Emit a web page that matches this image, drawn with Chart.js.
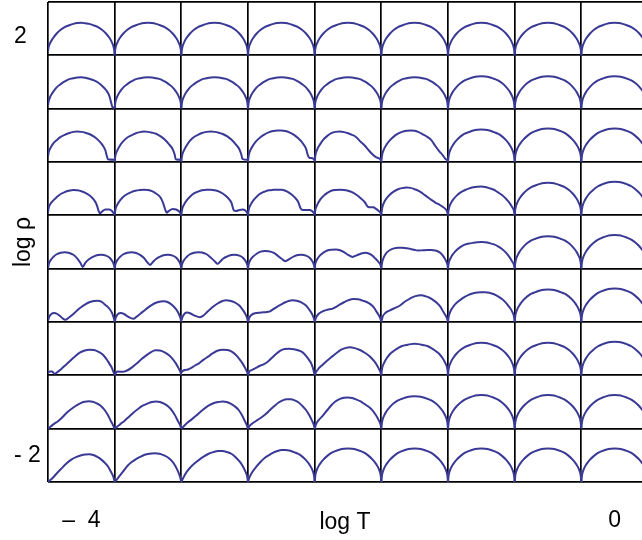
<!DOCTYPE html>
<html><head><meta charset="utf-8">
<script src="https://cdn.jsdelivr.net/npm/chart.js@4.4.1/dist/chart.umd.min.js"></script>
<style>html,body{margin:0;padding:0;background:#fff;}canvas{display:block;}</style>
</head><body>
<canvas id="c" width="642" height="540"></canvas>
<script>
// Column centres (log T) and row centres (log rho), one small plot per cell
const logT = [-4, -3.5, -3, -2.5, -2, -1.5, -1, -0.5, 0];
const logRho = [2, 1.5, 1, 0.5, 0, -0.5, -1, -1.5, -2];
const xGridLines = [-4.25, -3.75, -3.25, -2.75, -2.25, -1.75, -1.25, -0.75, -0.25];
const yGridLines = [-2.25, -1.75, -1.25, -0.75, -0.25, 0.25, 0.75, 1.25, 1.75, 2.25];
const xMax = 0.205;
const xTickValues = [-4, 0];
const xTickLabels = ['\u2013  4', '0'];
const yTickValues = [1.925, -2];
const yTickLabels = ['2', '- 2'];

// Curves: [fraction across cell, fraction of cell height]
const arch59 = [[0,0],[.01,.12],[.04,.23],[.08,.32],[.13,.4],[.19,.46],[.25,.51],[.31,.55],[.38,.57],[.44,.585],[.5,.59],[.56,.585],[.62,.57],[.69,.55],[.75,.51],[.81,.46],[.87,.4],[.92,.32],[.96,.23],[.99,.12],[1,0]];
const arch61 = [[0,0],[.01,.12],[.04,.24],[.08,.33],[.13,.41],[.19,.48],[.25,.53],[.31,.56],[.38,.59],[.44,.605],[.5,.61],[.56,.605],[.62,.59],[.69,.56],[.75,.53],[.81,.48],[.87,.41],[.92,.33],[.96,.24],[.99,.12],[1,0]];
const arch63 = [[0,0],[.01,.125],[.04,.25],[.08,.34],[.13,.42],[.19,.49],[.25,.545],[.31,.58],[.38,.61],[.44,.625],[.5,.63],[.56,.625],[.62,.61],[.69,.58],[.75,.545],[.81,.49],[.87,.42],[.92,.34],[.96,.25],[.99,.125],[1,0]];

const row0 = [
  [[0,.08],[.01,.16],[.04,.25],[.08,.33],[.13,.41],[.19,.48],[.25,.53],[.31,.56],[.38,.59],[.44,.605],[.5,.61],[.56,.6],[.62,.59],[.69,.56],[.75,.53],[.81,.48],[.87,.41],[.92,.33],[.96,.24],[.99,.12],[1,0]],
  arch61, arch61, arch61, arch61, arch61, arch61, arch61, arch61
];
const row1 = [
  [[0,.06],[.01,.14],[.04,.24],[.08,.32],[.13,.4],[.19,.46],[.25,.51],[.31,.55],[.38,.57],[.44,.585],[.5,.59],[.56,.58],[.62,.56],[.69,.53],[.75,.49],[.81,.43],[.87,.35],[.92,.24],[.95,.1],[.97,.02],[1,.02]],
  arch59, arch59, arch59, arch59, arch59, arch61, arch61, arch61
];
const row2 = [
  [[0,.1],[.01,.18],[.04,.27],[.08,.35],[.13,.41],[.19,.47],[.25,.51],[.31,.54],[.38,.565],[.44,.57],[.5,.565],[.56,.55],[.62,.525],[.69,.475],[.75,.415],[.81,.33],[.86,.22],[.885,.1],[.9,.05],[1,.04]],
  [[0,0],[.01,.11],[.04,.22],[.08,.31],[.13,.39],[.19,.46],[.25,.5],[.31,.535],[.38,.56],[.44,.57],[.5,.565],[.56,.55],[.62,.53],[.69,.48],[.75,.42],[.81,.34],[.87,.24],[.9,.14],[.915,.05],[1,.04]],
  [[0,0],[.01,.11],[.04,.22],[.08,.31],[.13,.4],[.19,.47],[.25,.51],[.31,.545],[.38,.565],[.44,.57],[.5,.565],[.56,.55],[.62,.525],[.69,.48],[.75,.42],[.81,.34],[.87,.24],[.9,.14],[.915,.06],[1,.04]],
  [[0,0],[.01,.12],[.04,.23],[.08,.32],[.13,.4],[.19,.47],[.25,.52],[.31,.555],[.38,.58],[.44,.59],[.5,.59],[.56,.58],[.62,.555],[.69,.51],[.75,.45],[.81,.37],[.87,.25],[.9,.12],[.92,.08],[.97,.07],[1,.03]],
  [[0,0],[.01,.12],[.04,.24],[.08,.33],[.13,.42],[.19,.49],[.25,.54],[.31,.565],[.38,.57],[.44,.56],[.5,.54],[.56,.51],[.62,.47],[.69,.38],[.75,.31],[.81,.22],[.87,.14],[.92,.09],[.96,.07],[.99,.04],[1,0]],
  [[0,0],[.01,.12],[.04,.24],[.08,.33],[.13,.41],[.19,.48],[.25,.53],[.31,.565],[.38,.585],[.44,.59],[.5,.585],[.56,.56],[.62,.52],[.69,.47],[.75,.41],[.81,.3],[.87,.2],[.92,.13],[.96,.06],[.99,.03],[1,0]],
  arch61, arch63, arch63
];
const row3 = [
  [[0,.05],[.01,.14],[.04,.22],[.08,.28],[.13,.34],[.19,.4],[.25,.435],[.31,.46],[.38,.475],[.44,.47],[.5,.453],[.56,.423],[.62,.376],[.69,.29],[.73,.2],[.76,.08],[.78,.04],[.81,.07],[.86,.11],[.92,.11],[.96,.08],[.99,.03],[1,.02]],
  [[0,0],[.01,.1],[.04,.2],[.08,.28],[.13,.35],[.19,.4],[.25,.435],[.31,.46],[.38,.475],[.44,.48],[.5,.475],[.56,.455],[.62,.41],[.69,.33],[.73,.22],[.76,.1],[.78,.05],[.81,.08],[.87,.12],[.92,.11],[.96,.08],[.99,.03],[1,0]],
  [[0,0],[.01,.1],[.04,.2],[.08,.28],[.13,.35],[.19,.41],[.25,.445],[.31,.47],[.38,.48],[.44,.48],[.5,.47],[.56,.45],[.62,.41],[.69,.34],[.75,.24],[.79,.09],[.82,.08],[.87,.1],[.92,.11],[.96,.09],[.99,.04],[1,0]],
  [[0,0],[.01,.1],[.04,.2],[.08,.28],[.13,.35],[.19,.41],[.25,.445],[.31,.47],[.38,.478],[.44,.48],[.5,.478],[.56,.46],[.62,.42],[.69,.35],[.75,.26],[.79,.13],[.82,.1],[.87,.1],[.92,.1],[.96,.08],[.99,.04],[1,0]],
  [[0,0],[.01,.1],[.04,.2],[.08,.29],[.13,.36],[.19,.42],[.25,.46],[.31,.475],[.38,.48],[.44,.475],[.5,.46],[.56,.435],[.62,.39],[.69,.32],[.75,.25],[.8,.16],[.84,.15],[.88,.15],[.92,.12],[.96,.08],[.99,.04],[1,0]],
  [[0,0],[.01,.12],[.04,.24],[.08,.32],[.13,.39],[.19,.45],[.25,.49],[.31,.51],[.38,.52],[.44,.515],[.5,.49],[.56,.46],[.62,.41],[.69,.345],[.75,.29],[.81,.24],[.87,.2],[.92,.16],[.96,.12],[.99,.06],[1,0]],
  [[0,0],[.01,.11],[.04,.22],[.08,.3],[.13,.37],[.19,.43],[.25,.47],[.31,.5],[.38,.525],[.44,.536],[.5,.54],[.56,.53],[.62,.51],[.69,.48],[.75,.43],[.81,.38],[.87,.31],[.92,.24],[.96,.16],[.99,.08],[1,0]],
  arch61, arch63
];
const row4 = [
  [[0,0],[.01,.08],[.04,.16],[.08,.22],[.13,.27],[.19,.3],[.25,.31],[.31,.3],[.38,.26],[.44,.19],[.49,.1],[.52,.03],[.56,.11],[.62,.18],[.69,.23],[.75,.255],[.8,.26],[.87,.245],[.92,.21],[.96,.15],[.99,.07],[1,0]],
  [[0,0],[.01,.08],[.04,.16],[.08,.22],[.13,.27],[.19,.3],[.25,.31],[.31,.3],[.38,.26],[.44,.2],[.49,.12],[.53,.07],[.57,.12],[.62,.18],[.69,.23],[.75,.255],[.8,.26],[.87,.245],[.92,.21],[.96,.15],[.99,.07],[1,0]],
  [[0,0],[.01,.08],[.04,.16],[.08,.22],[.13,.27],[.19,.3],[.25,.31],[.31,.305],[.38,.27],[.44,.21],[.5,.14],[.545,.09],[.58,.13],[.63,.19],[.69,.23],[.75,.255],[.8,.26],[.87,.245],[.92,.21],[.96,.15],[.99,.07],[1,0]],
  [[0,0],[.01,.08],[.04,.17],[.08,.23],[.13,.28],[.19,.32],[.25,.33],[.31,.325],[.38,.3],[.44,.25],[.5,.19],[.56,.14],[.62,.18],[.69,.23],[.75,.255],[.8,.26],[.87,.245],[.92,.21],[.96,.15],[.99,.07],[1,0]],
  [[0,0],[.01,.09],[.04,.18],[.08,.25],[.13,.3],[.19,.34],[.25,.355],[.32,.36],[.38,.345],[.44,.31],[.5,.26],[.57,.22],[.63,.25],[.69,.28],[.76,.3],[.82,.28],[.87,.24],[.91,.19],[.96,.12],[.99,.06],[1,0]],
  [[0,0],[.01,.1],[.04,.22],[.08,.3],[.13,.35],[.19,.38],[.25,.39],[.31,.39],[.38,.385],[.44,.37],[.5,.35],[.55,.34],[.62,.345],[.69,.35],[.75,.35],[.81,.34],[.87,.31],[.92,.25],[.96,.17],[.99,.08],[1,0]],
  [[0,0],[.01,.1],[.04,.2],[.08,.28],[.13,.35],[.19,.41],[.25,.45],[.31,.47],[.38,.485],[.44,.495],[.5,.5],[.56,.495],[.62,.48],[.69,.455],[.75,.42],[.81,.37],[.87,.3],[.92,.22],[.96,.14],[.99,.07],[1,0]],
  arch61, arch63
];
const row5 = [
  [[0,.03],[.02,.1],[.05,.15],[.09,.17],[.14,.15],[.2,.09],[.26,.04],[.31,.08],[.38,.15],[.44,.22],[.5,.28],[.56,.33],[.62,.37],[.69,.395],[.74,.4],[.8,.38],[.87,.31],[.92,.25],[.96,.17],[.99,.06],[1,0]],
  [[0,0],[.02,.09],[.05,.15],[.095,.17],[.14,.15],[.2,.1],[.28,.06],[.33,.1],[.38,.15],[.44,.21],[.5,.27],[.56,.32],[.62,.36],[.69,.385],[.74,.39],[.8,.37],[.87,.31],[.92,.24],[.96,.16],[.99,.06],[1,0]],
  [[0,.03],[.02,.1],[.05,.16],[.09,.18],[.14,.16],[.2,.12],[.28,.09],[.33,.12],[.38,.18],[.44,.25],[.5,.31],[.56,.36],[.62,.395],[.67,.41],[.73,.4],[.8,.37],[.87,.31],[.92,.23],[.96,.15],[.99,.06],[1,0]],
  [[0,0],[.02,.08],[.05,.13],[.09,.16],[.14,.17],[.2,.18],[.27,.185],[.33,.2],[.38,.24],[.44,.29],[.5,.33],[.56,.37],[.62,.4],[.67,.41],[.73,.4],[.8,.37],[.87,.31],[.92,.23],[.96,.15],[.99,.06],[1,0]],
  [[0,0],[.02,.08],[.05,.14],[.12,.2],[.19,.23],[.27,.25],[.33,.29],[.38,.33],[.44,.37],[.5,.405],[.58,.43],[.65,.425],[.72,.4],[.78,.375],[.84,.33],[.89,.27],[.93,.19],[.96,.13],[.99,.05],[1,0]],
  [[0,0],[.02,.1],[.06,.17],[.13,.22],[.2,.26],[.28,.31],[.35,.38],[.43,.44],[.5,.48],[.6,.5],[.67,.48],[.73,.45],[.78,.41],[.84,.35],[.89,.28],[.93,.19],[.96,.13],[.99,.05],[1,0]],
  [[0,0],[.01,.1],[.04,.21],[.08,.29],[.13,.36],[.19,.42],[.25,.47],[.31,.51],[.38,.54],[.44,.555],[.5,.56],[.56,.56],[.62,.55],[.69,.52],[.75,.48],[.81,.43],[.87,.36],[.92,.28],[.96,.2],[.99,.1],[1,0]],
  arch61, arch63
];
const row6 = [
  [[0,.05],[.03,.07],[.06,.07],[.1,.03],[.14,.06],[.2,.12],[.27,.2],[.33,.27],[.4,.35],[.47,.42],[.54,.46],[.62,.48],[.69,.475],[.76,.44],[.82,.39],[.88,.3],[.92,.22],[.95,.16],[.98,.07],[1,0]],
  [[0,0],[.02,.05],[.05,.07],[.1,.065],[.14,.07],[.2,.1],[.26,.15],[.33,.22],[.4,.3],[.47,.37],[.54,.43],[.61,.47],[.68,.465],[.75,.43],[.82,.37],[.88,.29],[.92,.22],[.96,.13],[.99,.05],[1,0]],
  [[0,.05],[.02,.08],[.05,.1],[.1,.11],[.15,.14],[.2,.18],[.27,.23],[.33,.29],[.4,.35],[.47,.41],[.54,.46],[.62,.48],[.69,.475],[.75,.45],[.82,.38],[.88,.29],[.92,.22],[.96,.13],[.99,.05],[1,0]],
  [[0,0],[.02,.07],[.06,.1],[.12,.14],[.18,.18],[.24,.21],[.3,.26],[.36,.33],[.42,.4],[.48,.46],[.55,.495],[.62,.5],[.69,.49],[.75,.47],[.82,.43],[.88,.35],[.92,.28],[.95,.22],[.98,.11],[1,0]],
  [[0,0],[.02,.06],[.06,.13],[.12,.2],[.19,.28],[.27,.36],[.33,.42],[.4,.48],[.47,.515],[.53,.525],[.6,.51],[.67,.48],[.73,.44],[.78,.4],[.84,.34],[.89,.27],[.93,.2],[.96,.13],[.99,.05],[1,0]],
  arch59, arch61, arch61, arch63
];
const row7 = [
  [[0,0],[.04,.04],[.09,.09],[.15,.14],[.22,.22],[.28,.3],[.35,.37],[.42,.43],[.49,.48],[.55,.505],[.61,.515],[.67,.505],[.73,.475],[.79,.43],[.85,.35],[.9,.25],[.94,.15],[.97,.08],[1,0]],
  [[0,0],[.04,.04],[.09,.09],[.15,.15],[.22,.23],[.28,.3],[.35,.37],[.42,.43],[.49,.47],[.56,.5],[.62,.51],[.68,.5],[.74,.47],[.8,.42],[.86,.34],[.91,.24],[.95,.14],[.98,.07],[1,0]],
  [[0,0],[.04,.05],[.09,.11],[.15,.17],[.22,.24],[.28,.31],[.35,.38],[.42,.44],[.49,.48],[.56,.5],[.62,.51],[.68,.5],[.74,.47],[.8,.42],[.86,.35],[.91,.25],[.95,.15],[.98,.07],[1,0]],
  [[0,0],[.03,.06],[.08,.11],[.14,.16],[.2,.21],[.27,.28],[.33,.35],[.4,.43],[.46,.49],[.52,.53],[.58,.55],[.64,.55],[.7,.53],[.76,.49],[.82,.42],[.87,.35],[.92,.25],[.96,.15],[.99,.06],[1,0]],
  [[0,0],[.02,.08],[.06,.16],[.12,.24],[.19,.35],[.25,.44],[.31,.51],[.38,.56],[.44,.58],[.5,.585],[.56,.575],[.62,.55],[.69,.51],[.75,.46],[.81,.41],[.87,.34],[.92,.25],[.96,.16],[.99,.07],[1,0]],
  arch61, arch63, arch63, arch63
];
const row8 = [
  [[0,0],[.04,.04],[.08,.09],[.13,.16],[.2,.25],[.28,.35],[.35,.42],[.43,.47],[.5,.5],[.56,.515],[.62,.52],[.68,.505],[.74,.47],[.8,.42],[.86,.35],[.9,.29],[.94,.2],[.98,.1],[1,0]],
  [[0,0],[.04,.06],[.09,.14],[.14,.22],[.19,.3],[.25,.37],[.32,.43],[.38,.47],[.45,.51],[.52,.53],[.6,.54],[.67,.53],[.74,.5],[.8,.46],[.86,.39],[.91,.3],[.95,.2],[.98,.1],[1,0]],
  [[0,0],[.03,.08],[.08,.19],[.14,.28],[.2,.35],[.27,.42],[.34,.48],[.41,.53],[.48,.56],[.55,.58],[.62,.58],[.69,.56],[.75,.53],[.81,.47],[.87,.39],[.92,.3],[.96,.2],[.99,.09],[1,0]],
  [[0,0],[.02,.08],[.06,.18],[.12,.28],[.19,.38],[.25,.45],[.31,.5],[.38,.55],[.44,.58],[.5,.6],[.56,.6],[.62,.59],[.69,.56],[.75,.53],[.81,.48],[.87,.41],[.92,.33],[.96,.24],[.99,.12],[1,0]],
  arch63, arch63, arch63, arch63, arch63
];

const rows = [row0, row1, row2, row3, row4, row5, row6, row7, row8];
const curveColor = 'rgb(58,58,150)';
const gridColor = '#000';
const fontFamily = "'Liberation Sans', Arial, sans-serif";

const cellT = logT[1] - logT[0];
const cellRho = logRho[0] - logRho[1];
const datasets = [];
rows.forEach((row, r) => row.forEach((curve, c) => {
  datasets.push({
    data: curve.map(([u, h]) => ({ x: logT[c] - cellT / 2 + u * cellT, y: logRho[r] - cellRho / 2 + h * cellRho })),
    showLine: true,
    borderColor: curveColor,
    backgroundColor: curveColor,
    borderWidth: 2,
    pointRadius: 0,
    cubicInterpolationMode: 'monotone',
    fill: false,
    xAxisID: 'x',
    yAxisID: 'y'
  });
}));

function zeroPad(s) { s.paddingLeft = 0; s.paddingRight = 0; s.paddingTop = 0; s.paddingBottom = 0; }

new Chart(document.getElementById('c'), {
  type: 'scatter',
  data: { datasets },
  options: {
    responsive: false,
    animation: false,
    devicePixelRatio: 1,
    layout: { padding: { top: 2, left: 14, right: 0, bottom: 0 } },
    plugins: { legend: { display: false }, tooltip: { enabled: false }, colors: { enabled: false } },
    scales: {
      x: {
        type: 'linear', axis: 'x', position: 'bottom', min: xGridLines[0], max: xMax, bounds: 'data',
        grid: { color: gridColor, lineWidth: 1.7, drawTicks: false },
        border: { display: false },
        ticks: { display: false },
        afterBuildTicks: s => { s.ticks = xGridLines.map(v => ({ value: v })); },
        afterFit: s => { s.height = 0; zeroPad(s); }
      },
      xl: {
        type: 'linear', axis: 'x', position: 'bottom', min: xGridLines[0], max: xMax, bounds: 'data',
        grid: { display: false, drawTicks: false },
        border: { display: false },
        ticks: { color: '#000', padding: 25, maxRotation: 0, autoSkip: false, font: { family: fontFamily, size: 23 },
          callback: (v, i) => xTickLabels[i] },
        title: { display: true, text: 'log T', color: '#000', font: { family: fontFamily, size: 23 }, padding: { top: 0, bottom: 4 } },
        afterBuildTicks: s => { s.ticks = xTickValues.map(v => ({ value: v })); },
        afterFit: s => { s.height = 58; zeroPad(s); }
      },
      y: {
        type: 'linear', axis: 'y', position: 'left', min: yGridLines[0], max: yGridLines[yGridLines.length - 1], bounds: 'data',
        grid: { color: gridColor, lineWidth: 1.7, drawTicks: false },
        border: { display: false },
        ticks: { display: false },
        afterBuildTicks: s => { s.ticks = yGridLines.map(v => ({ value: v })); },
        afterFit: s => { s.width = 0; zeroPad(s); }
      },
      yl: {
        type: 'linear', axis: 'y', position: 'left', min: yGridLines[0], max: yGridLines[yGridLines.length - 1], bounds: 'data',
        grid: { display: false, drawTicks: false },
        border: { display: false },
        ticks: { color: '#000', padding: 0, crossAlign: 'far', autoSkip: false, font: { family: fontFamily, size: 23 },
          callback: (v, i) => yTickLabels[i] },
        title: { display: true, text: 'log \u03C1', color: '#000', font: { family: fontFamily, size: 23 }, padding: { top: -4, bottom: 0 } },
        afterBuildTicks: s => { s.ticks = yTickValues.map(v => ({ value: v })); },
        afterFit: s => { s.width = 34; zeroPad(s); }
      }
    }
  }
});
</script>
</body></html>
